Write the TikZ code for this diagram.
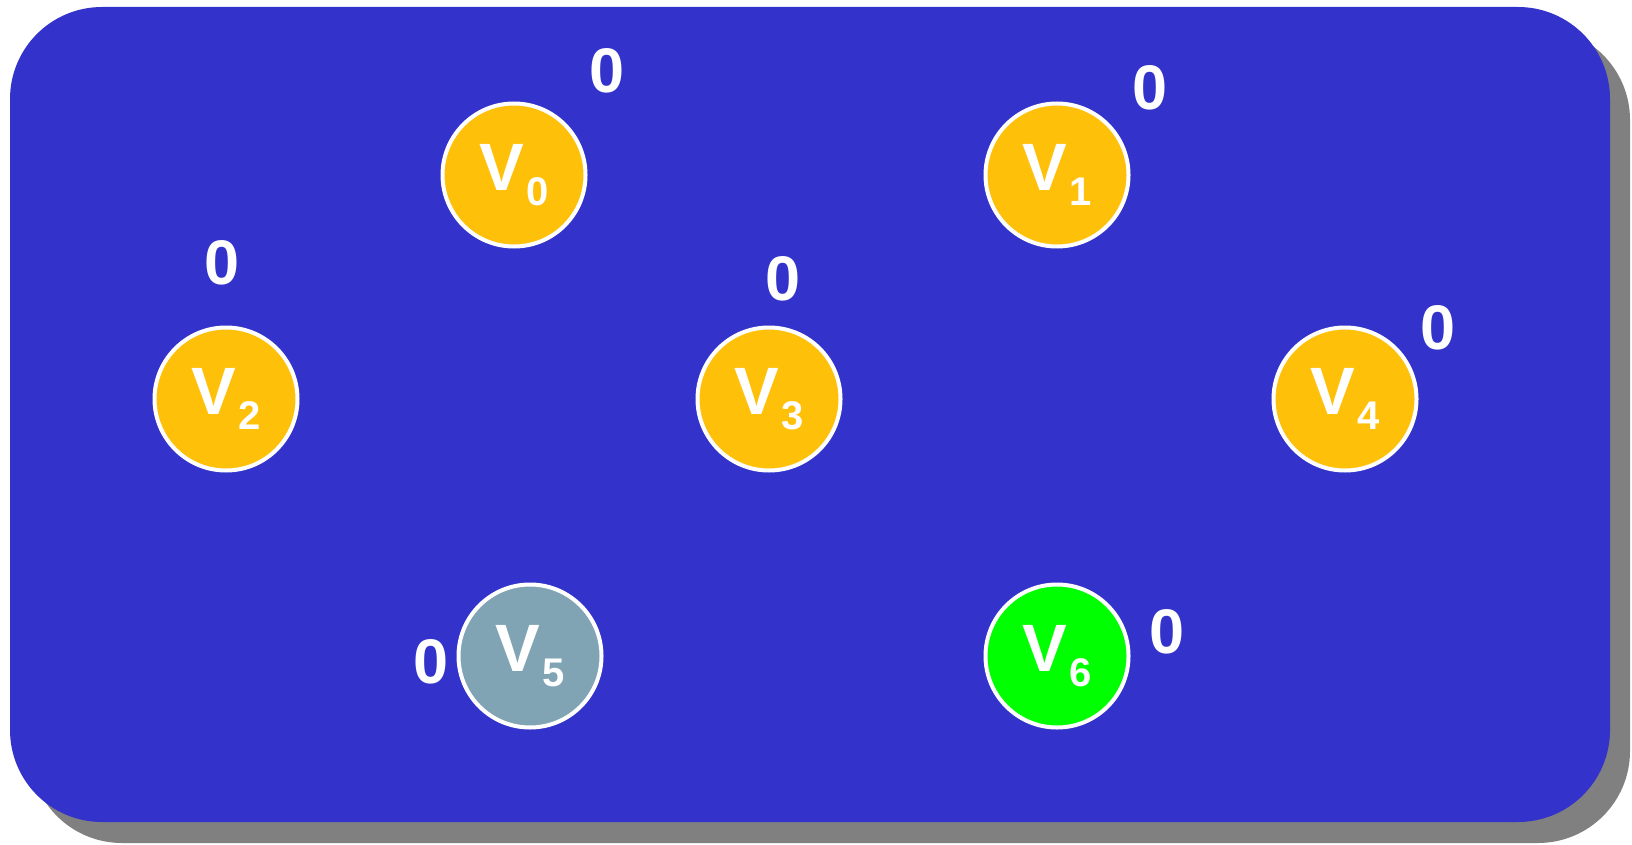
\documentclass[tikz,border=0pt]{standalone}
\usepackage{fontspec}
\setmainfont{Liberation Sans}
\usepackage{xcolor}
\usepackage{tikz}
\definecolor{fundo}{HTML}{3333CC}
\definecolor{ouro}{HTML}{FFC00A}
\definecolor{cinzaazul}{HTML}{80A4B4}
\definecolor{verde}{HTML}{00FF00}
\definecolor{sombra}{HTML}{808080}
\newcommand{\vrt}[1]{V\kern1.5pt\raisebox{-7.5pt}{\fontsize{20}{20}\selectfont #1}}
\tikzset{
  vertice/.style={circle, draw=white, line width=2pt, fill=#1, minimum size=71.5pt, inner sep=0pt, text=white, font=\bfseries\fontsize{33.5}{33.5}\selectfont},
  vertice/.default=ouro,
  rotulo/.style={text=white, inner sep=0pt, font=\bfseries\fontsize{31.5}{31.5}\selectfont},
}

\begin{document}
\begin{tikzpicture}[x=0.5pt, y=-0.5pt]
  \useasboundingbox (0,0) rectangle (1632,845);
  % quadro com sombra
  \fill[sombra, rounded corners=46pt] (30,28) rectangle (1630,843);
  \fill[fundo, rounded corners=46pt] (10,7) rectangle (1610,822);

  % vertices
  \node[vertice] (v0) at (514,175) {\vrt{0}};
  \node[vertice] (v1) at (1057,175) {\vrt{1}};
  \node[vertice] (v2) at (226,399) {\vrt{2}};
  \node[vertice] (v3) at (769,399) {\vrt{3}};
  \node[vertice] (v4) at (1345,399) {\vrt{4}};
  \node[vertice=cinzaazul] (v5) at (530,656) {\vrt{5}};
  \node[vertice=verde] (v6) at (1057,656) {\vrt{6}};

  % rotulos
  \node[rotulo] (r0) at (607,71) {0};
  \node[rotulo] (r1) at (1150,88) {0};
  \node[rotulo] (r2) at (222,263) {0};
  \node[rotulo] (r3) at (783,279) {0};
  \node[rotulo] (r4) at (1438,328) {0};
  \node[rotulo] (r5) at (431,662) {0};
  \node[rotulo] (r6) at (1167,632) {0};
\end{tikzpicture}
\end{document}
